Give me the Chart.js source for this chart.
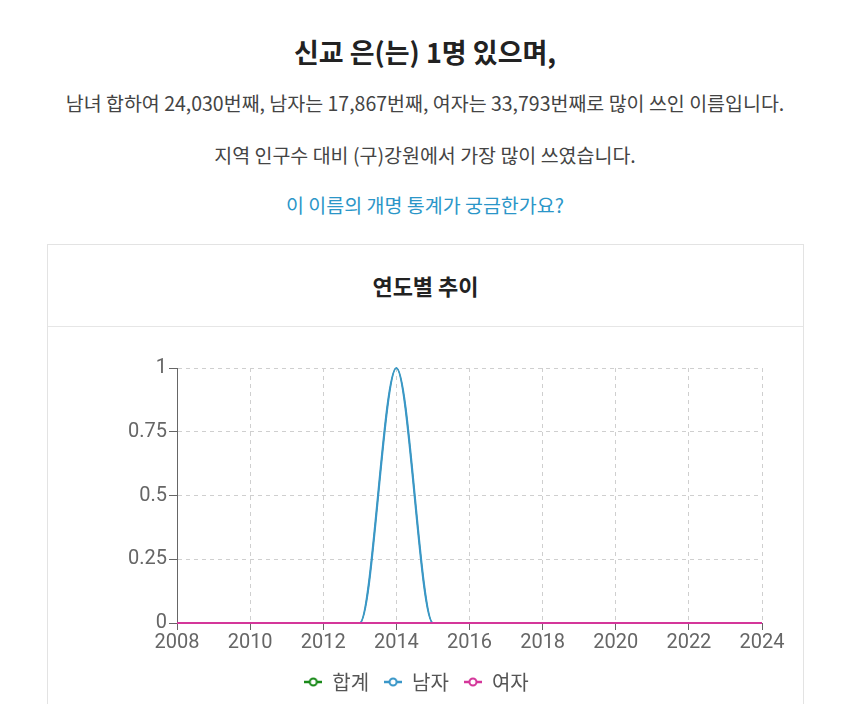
<!DOCTYPE html>
<html><head><meta charset="utf-8">
<script src="https://cdn.jsdelivr.net/npm/chart.js@4.4.1/dist/chart.umd.min.js"></script>
<style>
html,body{margin:0;padding:0;background:#fff;width:850px;height:704px;overflow:hidden;font-family:"Noto Sans CJK KR","Noto Sans",sans-serif;}
.t{position:absolute;left:0;width:850px;text-align:center;white-space:nowrap;}
#title{top:32px;font-size:27px;font-weight:bold;color:#222;line-height:40px;}
#l2{top:88px;font-size:19.5px;color:#444;line-height:30px;}
#l3{top:140px;font-size:19.5px;color:#444;line-height:30px;}
#link{top:190px;font-size:19.5px;color:#2b96c8;line-height:30px;}
#card{position:absolute;left:47px;top:244px;width:755px;height:480px;border:1px solid #e3e3e3;background:#fff;}
#head{position:absolute;left:0;top:0;width:755px;height:81px;border-bottom:1px solid #e6e6e6;text-align:center;line-height:81px;font-size:22px;font-weight:bold;color:#222;}
</style></head>
<body>
<div class="t" id="title">신교 은(는) 1명 있으며,</div>
<div class="t" id="l2">남녀 합하여 24,030번째, 남자는 17,867번째, 여자는 33,793번째로 많이 쓰인 이름입니다.</div>
<div class="t" id="l3">지역 인구수 대비 (구)강원에서 가장 많이 쓰였습니다.</div>
<div class="t" id="link">이 이름의 개명 통계가 궁금한가요?</div>
<div id="card"><div id="head">연도별 추이</div></div>
<div style="position:absolute;left:47px;top:327px;width:757px;height:420px;"><canvas id="c" width="757" height="420"></canvas></div>
<script>
const years = [2008,2009,2010,2011,2012,2013,2014,2015,2016,2017,2018,2019,2020,2021,2022,2023,2024];
const totalCounts = [0,0,0,0,0,0,1,0,0,0,0,0,0,0,0,0,0];
const maleCounts  = [0,0,0,0,0,0,1,0,0,0,0,0,0,0,0,0,0];
const femaleCounts= [0,0,0,0,0,0,0,0,0,0,0,0,0,0,0,0,0];
const seriesNames = ['합계','남자','여자'];
const yTicks = [0,0.25,0.5,0.75,1];
const xTicks = [2008,2010,2012,2014,2016,2018,2020,2022,2024];
const colors = ['#1a8a1a','#3a97c8','#d4369a'];
const widths = [1.2, 2.2, 2];

function icon(col){
  const c=document.createElement('canvas'); c.width=18; c.height=10;
  const g=c.getContext('2d');
  g.strokeStyle=col; g.lineWidth=2.5;
  g.beginPath(); g.moveTo(0,5); g.lineTo(18,5); g.stroke();
  g.lineWidth=2;
  g.fillStyle='#fff'; g.beginPath(); g.arc(9,5,3.5,0,Math.PI*2); g.fill(); g.stroke();
  return c;
}
const toXY = arr => years.map((y,i)=>({x:y,y:arr[i]}));
const sets = [totalCounts, maleCounts, femaleCounts];
const datasets = sets.map((arr,i)=>({
  label: seriesNames[i],
  data: toXY(arr),
  borderColor: colors[i],
  backgroundColor: colors[i],
  borderWidth: widths[i],
  pointRadius: 0,
  pointHoverRadius: 0,
  pointStyle: icon(colors[i]),
  cubicInterpolationMode: 'monotone',
  fill: false,
  clip: false,
  order: 2-i
}));

new Chart(document.getElementById('c'), {
  type: 'line',
  data: { datasets },
  options: {
    responsive: false,
    animation: false,
    layout: { padding: { left: 24, right: 42, top: 41, bottom: 45 } },
    plugins: {
      legend: {
        position: 'bottom',
        labels: {
          usePointStyle: true, pointStyleWidth: 18,
          font: { family: 'Noto Sans CJK KR', size: 20 },
          color: '#555', padding: 15, boxHeight: 10,
          sort: (a,b)=>a.datasetIndex-b.datasetIndex
        }
      },
      tooltip: { enabled: false }
    },
    scales: {
      x: {
        type: 'linear', min: 2008, max: 2024,
        afterBuildTicks: s => { s.ticks = xTicks.map(v=>({value:v})); },
        ticks: { callback: v => String(v), color: '#666', font: { family: 'Roboto', size: 20 }, padding: 1, maxRotation: 0, autoSkip: false },
        grid: { color: '#cfcfcf', tickColor: '#666', tickLength: 7, drawTicks: true },
        border: { color: '#666', dash: [4,4] },
        afterFit: s => { s.height = 34; }
      },
      y: {
        min: 0, max: 1,
        afterBuildTicks: s => { s.ticks = yTicks.map(v=>({value:v})); },
        ticks: { callback: v => String(v), color: '#666', font: { family: 'Roboto', size: 20 }, padding: 2 },
        grid: { color: '#cfcfcf', tickColor: '#666', tickLength: 8 },
        border: { color: '#666', dash: [4,4] },
        afterFit: s => { s.width = 106; }
      }
    }
  }
});
</script>
</body></html>
